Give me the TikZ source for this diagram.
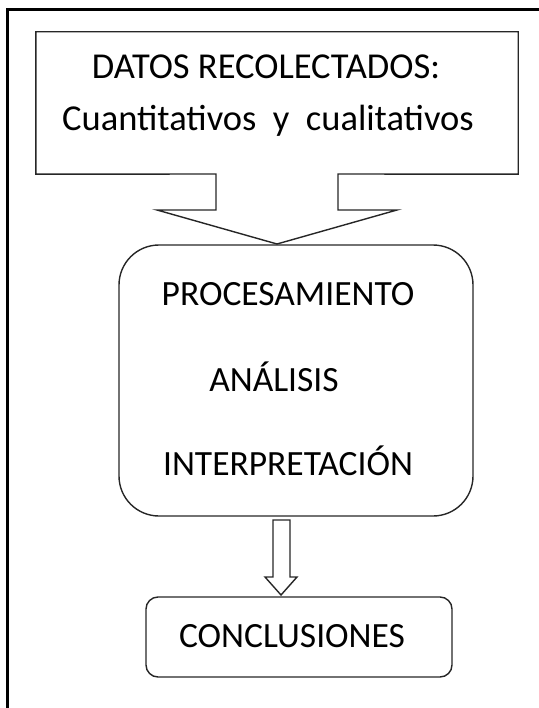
\documentclass[tikz,border=0pt]{standalone}
\usepackage{fontspec}
\setmainfont{Carlito}
\begin{document}
\begin{tikzpicture}[x=1pt,y=-1pt,
  line/.style={draw=black!85, line width=1.4pt, line join=miter},
  txtA/.style={font=\fontsize{36.5}{40}\selectfont, inner sep=0pt, anchor=base},
  txtB/.style={font=\fontsize{35.5}{38}\selectfont, inner sep=0pt, anchor=base}]
\useasboundingbox (0,0) rectangle (538,708);
% outer frame
\coordinate (fbl) at (7.5,712);
\coordinate (ftl) at (7.5,9.5);
\coordinate (ftr) at (542,9.5);
\draw[line width=2.4pt] (fbl) -- (ftl) -- (ftr);
% top box with callout
\node[minimum width=482pt, minimum height=142pt, inner sep=0pt] (datos) at (277,103) {};
\coordinate (s1) at (216,174);
\coordinate (s2) at (216,210);
\coordinate (w1) at (157,210);
\coordinate (tip) at (277,244);
\coordinate (w2) at (397,210);
\coordinate (s3) at (338,210);
\coordinate (s4) at (338,174);
\draw[line] (datos.south west) -- (datos.north west) -- (datos.north east) -- (datos.south east)
  -- (s4) -- (s3) -- (w2) -- (tip) -- (w1) -- (s2) -- (s1) -- cycle;
\node[txtA] (t1) at (266,79) {DATOS RECOLECTADOS:};
\node[txtA] (t2) at (268,131) {Cuantitativos \ y \ cualitativos};
% process box
\node[line, rectangle, rounded corners=40pt, minimum width=354pt, minimum height=271pt] (proc) at (296,380.5) {};
\node[txtB] (p1) at (288,305) {PROCESAMIENTO};
\node[txtB] (p2) at (274,391) {ANÁLISIS};
\node[txtB] (p3) at (288,475) {INTERPRETACIÓN};
% hollow arrow
\coordinate (a1) at (273,520);
\coordinate (a2) at (290,520);
\coordinate (a3) at (290,577);
\coordinate (a4) at (297,577);
\coordinate (a5) at (281,595);
\coordinate (a6) at (265,577);
\coordinate (a7) at (273,577);
\draw[line] (a1) -- (a2) -- (a3) -- (a4) -- (a5) -- (a6) -- (a7) -- cycle;
% conclusions
\node[line, rectangle, rounded corners=12pt, minimum width=306pt, minimum height=80pt] (concl) at (299,637) {};
\node[txtB] (c1) at (292,647) {CONCLUSIONES};
\end{tikzpicture}
\end{document}
